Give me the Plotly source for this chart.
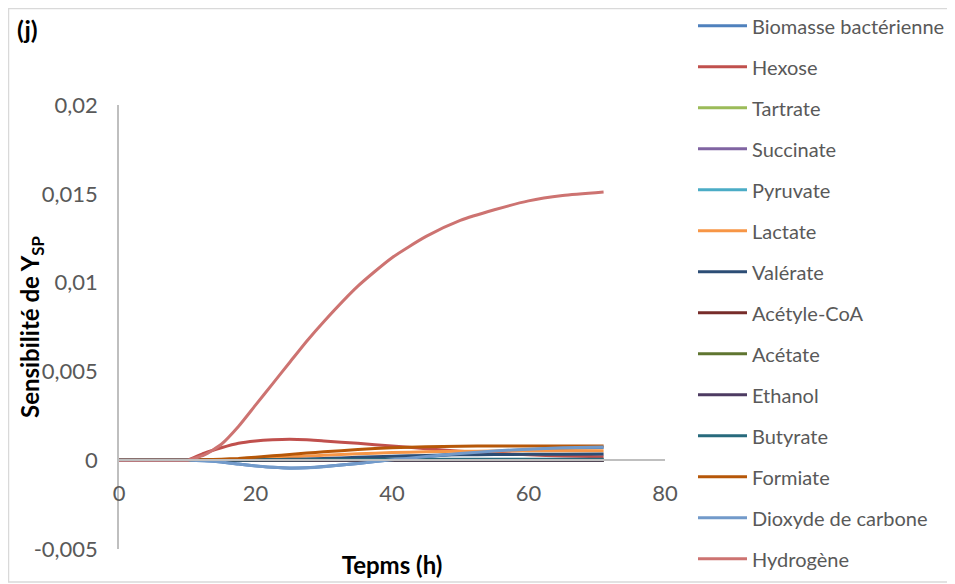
import plotly.graph_objects as go

# Time (h)
temps = [0, 5, 9, 10, 12.5, 15, 17.5, 20, 22.5, 25, 27.5, 30, 35, 40, 45, 50, 55, 60, 65, 71]

series_names = ["Biomasse bactérienne", "Hexose", "Tartrate", "Succinate", "Pyruvate",
                "Lactate", "Valérate", "Acétyle-CoA", "Acétate", "Ethanol", "Butyrate",
                "Formiate", "Dioxyde de carbone", "Hydrogène"]

biomasse = [0, 0, 0, 0, -0.00003, -0.0001, -0.00022, -0.00032, -0.0004, -0.00044, -0.00042,
            -0.00036, -0.00018, 0.00002, 0.0002, 0.00036, 0.00049, 0.00059, 0.00066, 0.00071]
hexose = [0, 0, 0, 0, 0.0004, 0.0007, 0.00095, 0.00108, 0.00115, 0.00118, 0.00115,
          0.00108, 0.00095, 0.0008, 0.00065, 0.0005, 0.0004, 0.0003, 0.00024, 0.0002]
tartrate = [0] * 20
succinate = [0] * 20
pyruvate = [0] * 20
lactate = [0, 0, 0, 0, 0.00001, 0.00003, 0.00006, 0.0001, 0.00014, 0.00018, 0.00023,
           0.00028, 0.00036, 0.00043, 0.00047, 0.0005, 0.00052, 0.00053, 0.00053, 0.00053]
valerate = [0, 0, 0, 0, 0, 0, 0.00001, 0.00002, 0.00003, 0.00005, 0.00007,
            0.0001, 0.00016, 0.00022, 0.00027, 0.0003, 0.00032, 0.00033, 0.00034, 0.00035]
acetyl_coa = [0] * 20
acetate = [0] * 20
ethanol = [0] * 20
butyrate = [0, 0, 0, 0, 0, 0.00001, 0.00001, 0.00002, 0.00002, 0.00003, 0.00003,
            0.00004, 0.00004, 0.00005, 0.00005, 0.00005, 0.00005, 0.00005, 0.00005, 0.00005]
formiate = [0, 0, 0, 0, 0.00002, 0.00006, 0.0001, 0.00017, 0.00025, 0.00032, 0.0004,
            0.00047, 0.0006, 0.0007, 0.00076, 0.00079, 0.0008, 0.0008, 0.0008, 0.0008]
co2 = [0, 0, 0, 0, -0.00003, -0.0001, -0.00022, -0.00033, -0.0004, -0.00045, -0.00043,
       -0.00037, -0.00018, 0.00002, 0.00021, 0.00038, 0.00052, 0.00062, 0.0007, 0.00075]
hydrogene = [0, 0, 0, 0, 0.0003, 0.0009, 0.0019, 0.0031, 0.0043, 0.0055, 0.0067,
             0.0078, 0.0098, 0.0114, 0.0126, 0.0135, 0.0141, 0.0146, 0.0149, 0.0151]

values = [biomasse, hexose, tartrate, succinate, pyruvate, lactate, valerate,
          acetyl_coa, acetate, ethanol, butyrate, formiate, co2, hydrogene]

colors = ["#4F81BD", "#C0504D", "#9BBB59", "#8064A2", "#4BACC6", "#F79646", "#2C4D75",
          "#772C2A", "#5F7530", "#4D3B62", "#276A7C", "#B65708", "#729ACA", "#CD7371"]

y_tickvals = [-0.005, 0, 0.005, 0.01, 0.015, 0.02]
y_ticktext = ["-0,005", "0", "0,005", "0,01", "0,015", "0,02"]
x_tickvals = [0, 20, 40, 60, 80]
x_ticktext = ["0", "20", "40", "60", "80"]

FONT = "Lato"
GREY = "#595959"

FIG_W, FIG_H = 955, 584
# plot area in figure pixels
L, T, W, H = 111, 97, 546, 444
BOTTOM = T + H

# chart-area border (left, top, bottom edges; right edge lies outside the picture)
bx0 = (0.5 - L) / W
bx1 = (1100 - L) / W
by_top = (BOTTOM - 0.5) / H
by_bot = (BOTTOM - 574) / H
border_path = f"M {bx1},{by_top} L {bx0},{by_top} L {bx0},{by_bot} L {bx1},{by_bot}"

fig = go.Figure()
for i, (name, vals, col) in enumerate(zip(series_names, values, colors)):
    fig.add_trace(go.Scatter(
        x=temps, y=vals, name=name, mode="lines",
        line=dict(color=col, width=3, shape="spline", smoothing=0.6),
        legendgroup=f"g{i}",
    ))

fig.update_layout(
    width=FIG_W, height=FIG_H,
    margin=dict(l=L, r=FIG_W - L - W, t=T, b=FIG_H - T - H, autoexpand=False),
    paper_bgcolor="white", plot_bgcolor="white",
    font=dict(family=FONT, color=GREY),
    title=dict(text="<b>(j)</b>", x=9 / FIG_W, xanchor="left", y=1 - 22 / FIG_H,
               yanchor="middle", font=dict(family=FONT, size=25, color="black")),
    showlegend=True,
    legend=dict(x=574 / W, xanchor="left", y=1.2225, yanchor="top",
                font=dict(family=FONT, size=20, color=GREY),
                tracegroupgap=12, itemwidth=49, bgcolor="rgba(0,0,0,0)",
                maxheight=700),
    xaxis=dict(range=[0, 80], tickvals=x_tickvals, ticktext=x_ticktext,
               showgrid=False, zeroline=False, showline=True, linecolor="#BFBFBF",
               linewidth=1.5, ticks="", anchor="free", position=0.2,
               ticklabelstandoff=14, automargin=False,
               tickfont=dict(family=FONT, size=22, color=GREY),
               title=dict(text="<b>Tepms (h)</b>", standoff=51,
                          font=dict(family=FONT, size=24, color="black"))),
    yaxis=dict(range=[-0.005, 0.02], tickvals=y_tickvals, ticktext=y_ticktext,
               showgrid=False, zeroline=False, showline=True, linecolor="#BFBFBF",
               linewidth=1.5, ticks="", ticklabelstandoff=15, automargin=False,
               tickfont=dict(family=FONT, size=22, color=GREY)),
    annotations=[dict(text="<b>Sensibilité de Y<sub>SP</sub></b>", textangle=-90,
                      xref="paper", yref="paper", x=(23 - L) / W, y=0.5,
                      xanchor="center", yanchor="middle", showarrow=False,
                      font=dict(family=FONT, size=24, color="black"))],
    shapes=[dict(type="path", xref="paper", yref="paper", path=border_path,
                 line=dict(color="#D9D9D9", width=1.5), layer="below")],
)

fig.write_html("out.html")
